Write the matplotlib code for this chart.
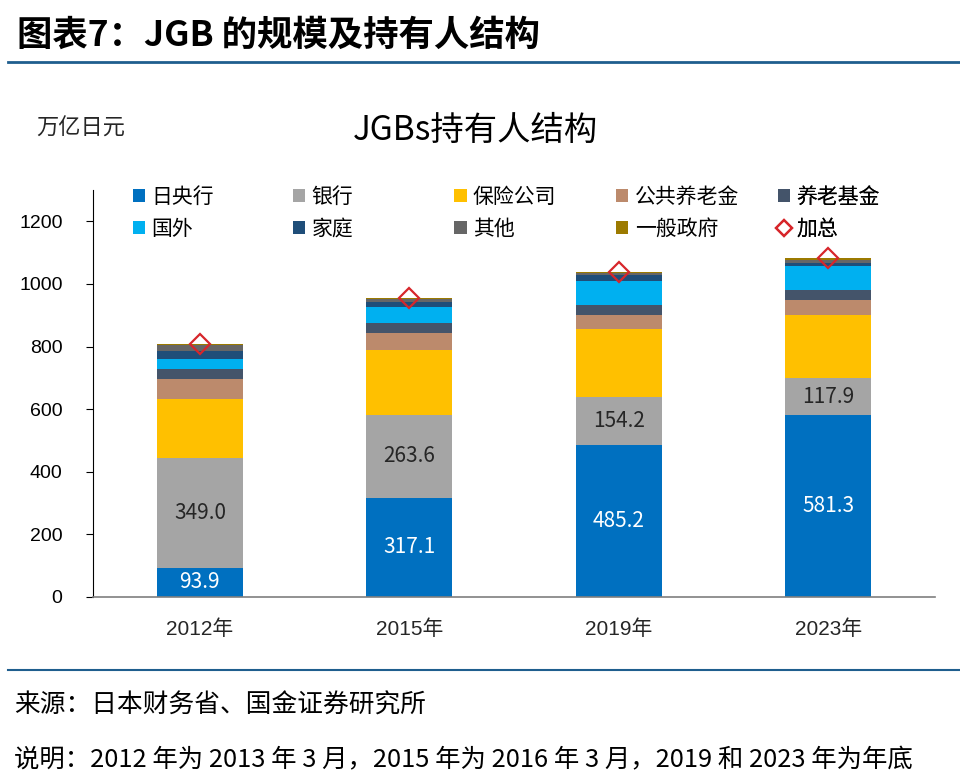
import matplotlib.pyplot as plt
import numpy as np
from matplotlib.lines import Line2D
from matplotlib.patches import Patch

plt.rcParams['font.family'] = ['Liberation Sans', 'Noto Sans CJK SC', 'DejaVu Sans']

years = ['2012年', '2015年', '2019年', '2023年']
series_names = ['日央行', '银行', '保险公司', '公共养老金', '养老基金',
                '国外', '家庭', '其他', '一般政府']
boj = [93.9, 317.1, 485.2, 581.3]
bank = [349.0, 263.6, 154.2, 117.9]
insurance = [189, 210, 218, 203]
public_pension = [63, 53, 43, 48]
pension_fund = [32, 32, 31, 32]
foreign = [35, 52, 78, 74]
household = [24, 14, 18, 10]
others = [18, 9, 8, 11]
general_gov = [4, 5, 3, 6]
colors = ['#0070C0', '#A5A5A5', '#FFC000', '#BC8A6C', '#44546A',
          '#00B0F0', '#1F4E79', '#666666', '#9C7A00']

data = [boj, bank, insurance, public_pension, pension_fund,
        foreign, household, others, general_gov]

fig = plt.figure(figsize=(9.6, 7.81), dpi=100)
ax = fig.add_axes([0.097, 0.2356, 0.877, 0.521])

x = np.arange(len(years))
bottom = np.zeros(len(years))
handles = []
for name, vals, c in zip(series_names, data, colors):
    ax.bar(x, vals, 0.41, bottom=bottom, color=c, zorder=2)
    handles.append(Patch(facecolor=c, label=name))
    bottom += np.array(vals)
total = bottom

ax.plot(x, total, linestyle='none', marker='D', markersize=10,
        markerfacecolor='none', markeredgecolor='#D7262B', markeredgewidth=1.6, zorder=3)
handles.append(Line2D([], [], linestyle='none', marker='D', markersize=8,
                      markerfacecolor='none', markeredgecolor='#D7262B',
                      markeredgewidth=1.6, label='加总'))

for i in range(len(years)):
    ax.text(x[i], boj[i] / 2, f'{boj[i]:.1f}', ha='center', va='center',
            color='white', fontsize=15, family=['Noto Sans CJK SC'])
    ax.text(x[i], boj[i] + bank[i] / 2, f'{bank[i]:.1f}', ha='center', va='center',
            color='#262626', fontsize=15, family=['Noto Sans CJK SC'])

ax.set_xlim(-0.51, 3.51)
ax.set_ylim(0, 1300)
ax.set_yticks(range(0, 1201, 200))
ax.set_xticks(x)
ax.set_xticklabels(years)
ax.tick_params(axis='y', labelsize=14, length=5, direction='out', pad=17)
ax.tick_params(axis='x', labelsize=15, length=0, pad=16, colors='#262626')
for s in ['top', 'right']:
    ax.spines[s].set_visible(False)
ax.spines['left'].set_color('black')
ax.spines['bottom'].set_color('#7F7F7F')
ax.spines['bottom'].set_linewidth(1.2)

# legend: five columns at fixed spacing, two rows each
col_x = [0.037, 0.227, 0.419, 0.611, 0.803]
for j, cx in enumerate(col_x):
    hs = [handles[j], handles[j + 5]]
    leg = ax.legend(hs, [h.get_label() for h in hs], loc='upper left',
                    bbox_to_anchor=(cx, 1.03), frameon=False,
                    prop={'family': 'Noto Sans CJK SC', 'size': 15},
                    handlelength=0.6, handleheight=0.6, handletextpad=0.3,
                    labelspacing=0.45, borderaxespad=0)
    ax.add_artist(leg)

fig.text(0.495, 0.833, 'JGBs持有人结构', ha='center', va='center', fontsize=24,
         family=['Noto Sans CJK SC'])
fig.text(0.038, 0.836, '万亿日元', ha='left', va='center', fontsize=16,
         family=['Noto Sans CJK SC'], color='#262626')

fig.text(0.018, 0.955, '图表7：JGB 的规模及持有人结构', ha='left', va='center',
         fontsize=25.5, fontweight='bold', style='italic', family=['Noto Sans CJK SC'])
fig.add_artist(Line2D([0.008, 1.0], [0.921, 0.921], color='#1F5E8E', linewidth=2,
                      transform=fig.transFigure))
fig.add_artist(Line2D([0.008, 1.0], [0.142, 0.142], color='#1F5E8E', linewidth=1.5,
                      transform=fig.transFigure))
fig.text(0.015, 0.097, '来源：日本财务省、国金证券研究所', ha='left', va='center',
         fontsize=18.5, family=['Noto Sans CJK SC'])
fig.text(0.015, 0.027, '说明：2012 年为 2013 年 3 月，2015 年为 2016 年 3 月，2019 和 2023 年为年底',
         ha='left', va='center', fontsize=18.3, family=['Noto Sans CJK SC'])

fig.savefig('out.png', dpi=100)
